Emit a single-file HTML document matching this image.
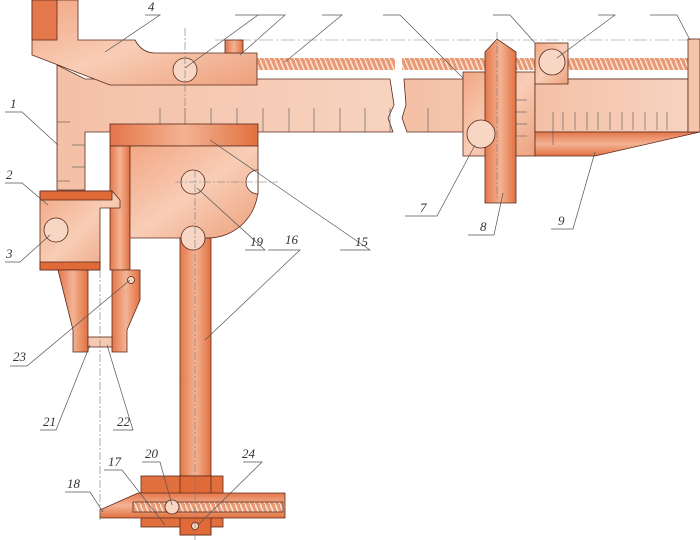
<!DOCTYPE html>
<html><head><meta charset="utf-8"><style>
html,body{margin:0;padding:0;background:#fff;}
svg{display:block;}
text{font-family:"Liberation Serif",serif;font-style:italic;font-size:13px;fill:#333;}
</style></head><body>
<svg width="700" height="540" viewBox="0 0 700 540" xmlns="http://www.w3.org/2000/svg">
<defs>
<linearGradient id="g" x1="0" y1="0" x2="1" y2="1">
<stop offset="0" stop-color="#f2a784"/><stop offset="0.5" stop-color="#f8cdb6"/><stop offset="1" stop-color="#eda07c"/></linearGradient>
<linearGradient id="gh" x1="0" y1="0" x2="1" y2="0">
<stop offset="0" stop-color="#e4764a"/><stop offset="0.5" stop-color="#f3b394"/><stop offset="1" stop-color="#e2703f"/></linearGradient>
<linearGradient id="gv" x1="0" y1="0" x2="0" y2="1">
<stop offset="0" stop-color="#e4764a"/><stop offset="0.5" stop-color="#f3b394"/><stop offset="1" stop-color="#e2703f"/></linearGradient>
<linearGradient id="gl" x1="0" y1="0" x2="1" y2="0">
<stop offset="0" stop-color="#f4c0a6"/><stop offset="1" stop-color="#f7d3c0"/></linearGradient>
<pattern id="thr" width="5" height="12" patternUnits="userSpaceOnUse">
<rect width="5" height="12" fill="#e99a74"/><line x1="0" y1="0" x2="5" y2="12" stroke="#fbe6da" stroke-width="1.5"/></pattern>
</defs>
<g stroke="#5a2a1a" stroke-width="0.8">
<line x1="215" y1="40" x2="700" y2="40" stroke="#aaa" stroke-dasharray="14,3,2,3"/>
<rect x="257" y="58" width="138" height="12" fill="url(#thr)" stroke="none"/>
<rect x="402" y="58" width="286" height="12" fill="url(#thr)" stroke="none"/>
<path d="M57,65 L57,190 L85,190 L85,132 L393,132 L388,118 L394,105 L390,79 L85,79 Z" fill="url(#gl)"/>
<path d="M404,79 L688,79 L688,132 L407,132 L402,118 L406,105 Z" fill="url(#gl)"/>
<g stroke="#555" stroke-width="0.6">
<line x1="160" y1="108" x2="160" y2="132"/><line x1="185" y1="108" x2="185" y2="132"/><line x1="211" y1="108" x2="211" y2="132"/><line x1="237" y1="108" x2="237" y2="132"/><line x1="263" y1="108" x2="263" y2="132"/><line x1="289" y1="108" x2="289" y2="132"/><line x1="314" y1="108" x2="314" y2="132"/><line x1="340" y1="108" x2="340" y2="132"/><line x1="365" y1="108" x2="365" y2="132"/><line x1="390" y1="108" x2="390" y2="132"/><line x1="428" y1="108" x2="428" y2="132"/>
<line x1="57" y1="122" x2="70" y2="122"/><line x1="72" y1="145" x2="85" y2="145"/><line x1="72" y1="167" x2="85" y2="167"/><line x1="57" y1="181" x2="70" y2="181"/>
</g>
<path d="M32,0 L78,0 L78,40 L135,40 Q142,53 155,53 L257,53 L257,85 L110,85 L32,55 Z" fill="url(#g)"/>
<rect x="32" y="0" width="25" height="40" fill="#e4784c"/>
<rect x="225" y="40" width="18" height="13" fill="url(#gh)"/>
<circle cx="185" cy="70" r="12" fill="#f7d6c4"/>
<rect x="110" y="124" width="148" height="22" fill="url(#gh)"/>
<rect x="110" y="146" width="20" height="124" fill="url(#gh)"/>
<path d="M130,146 L258,146 L258,188 A50,50 0 0 1 208,238 L130,238 Z" fill="url(#g)"/>
<circle cx="193" cy="182" r="12" fill="#f7d6c4"/>
<path d="M258,170 A12,12 0 0 0 258,194 Z" fill="#fff"/>
<path d="M112,270 L140,270 L140,300 L127,330 L127,352 L112,352 Z" fill="url(#gh)"/>
<circle cx="131" cy="280" r="3.5" fill="#f7d6c4"/>
<path d="M40,191 L112,191 L120,200 L120,208 L100,208 L100,270 L40,270 Z" fill="url(#g)"/>
<rect x="40" y="191" width="72" height="9" fill="#e06a38"/>
<rect x="40" y="262" width="60" height="8" fill="#e06a38"/>
<circle cx="56" cy="230" r="12" fill="#f7d6c4"/>
<path d="M58,270 L88,270 L88,352 L73,352 L73,330 Z" fill="url(#gh)"/>
<rect x="88" y="337" width="24" height="10" fill="#f5c8b0"/>
<rect x="180" y="238" width="31" height="297" fill="url(#gh)"/>
<circle cx="193" cy="238" r="12" fill="#f7d6c4"/>
<rect x="141" y="476" width="82" height="51" fill="#e2703f"/>
<rect x="180" y="476" width="31" height="59" fill="#e06a38"/>
<path d="M100,518 L100,510 L138,493 L285,493 L285,518 Z" fill="url(#gv)"/>
<rect x="133" y="502" width="150" height="10" fill="url(#thr)"/>
<circle cx="172" cy="507" r="7" fill="#f7d6c4"/>
<circle cx="195" cy="526" r="3.5" fill="#f7d6c4"/>
<rect x="463" y="72" width="72" height="84" fill="url(#g)"/>
<rect x="535" y="79" width="153" height="53" fill="url(#gl)"/>
<path d="M535,132 L700,132 L595,156 L535,156 Z" fill="url(#gv)"/>
<rect x="688" y="39" width="12" height="93" fill="#f5c4aa"/>
<rect x="535" y="43" width="33" height="41" fill="url(#g)"/>
<circle cx="552" cy="62" r="13" fill="#f7d6c4"/>
<g stroke="#555" stroke-width="0.6">
<line x1="553" y1="112" x2="553" y2="145"/><line x1="563" y1="112" x2="563" y2="130"/><line x1="575" y1="112" x2="575" y2="130"/><line x1="587" y1="112" x2="587" y2="130"/><line x1="598" y1="112" x2="598" y2="130"/><line x1="610" y1="112" x2="610" y2="130"/><line x1="622" y1="112" x2="622" y2="130"/><line x1="633" y1="112" x2="633" y2="130"/><line x1="645" y1="112" x2="645" y2="130"/><line x1="657" y1="112" x2="657" y2="130"/><line x1="667" y1="112" x2="667" y2="130"/>
<line x1="516" y1="100" x2="527" y2="100"/><line x1="516" y1="112" x2="527" y2="112"/><line x1="516" y1="124" x2="527" y2="124"/><line x1="500" y1="136" x2="527" y2="136"/>
</g>
<path d="M485,52 L497,39 L516,52 L516,203 L485,203 Z" fill="url(#gh)"/>
<circle cx="481" cy="134" r="14" fill="#f7d6c4"/>
</g>
<g stroke="#777" stroke-width="0.6" stroke-dasharray="8,2,2,2" fill="none">
<line x1="100" y1="270" x2="100" y2="520"/>
<line x1="195" y1="170" x2="195" y2="540"/>
<line x1="175" y1="182" x2="278" y2="182"/>
<line x1="497" y1="32" x2="497" y2="200"/>
<line x1="185" y1="28" x2="185" y2="110"/>
</g>
<g stroke="#555" stroke-width="0.7" fill="none">
<path d="M145,15 H160 L105,52"/>
<path d="M235,15 H258 L185,68"/>
<path d="M258,15 H285 L240,55"/>
<path d="M322,15 H342 L285,62"/>
<path d="M383,15 H400 L463,78"/>
<path d="M493,15 H510 L535,43"/>
<path d="M598,15 H615 L557,58"/>
<path d="M650,15 H677 L690,40"/>
<path d="M5,112 H22 L58,145"/>
<path d="M5,183 H22 L48,205"/>
<path d="M5,262 H20 L50,235"/>
<path d="M245,250 H265 L197,188"/>
<path d="M268,250 H300 L205,340"/>
<path d="M340,250 H370 L210,140"/>
<path d="M405,216 H437 L475,145"/>
<path d="M468,235 H494 L503,193"/>
<path d="M551,229 H573 L595,152"/>
<path d="M10,366 H27 L130,280"/>
<path d="M40,430 H56 L90,345"/>
<path d="M113,430 H133 L107,345"/>
<path d="M104,470 H122 L165,525"/>
<path d="M142,462 H160 L172,505"/>
<path d="M243,462 H262 L198,525"/>
<path d="M65,492 H90 L103,512"/>
</g>
<text x="148" y="11">4</text>
<text x="10" y="108">1</text>
<text x="6" y="179">2</text>
<text x="6" y="258">3</text>
<text x="250" y="246">19</text>
<text x="285" y="244">16</text>
<text x="355" y="246">15</text>
<text x="420" y="212">7</text>
<text x="480" y="231">8</text>
<text x="558" y="225">9</text>
<text x="13" y="361">23</text>
<text x="43" y="426">21</text>
<text x="117" y="426">22</text>
<text x="108" y="466">17</text>
<text x="145" y="458">20</text>
<text x="242" y="458">24</text>
<text x="67" y="488">18</text>
</svg>
</body></html>
